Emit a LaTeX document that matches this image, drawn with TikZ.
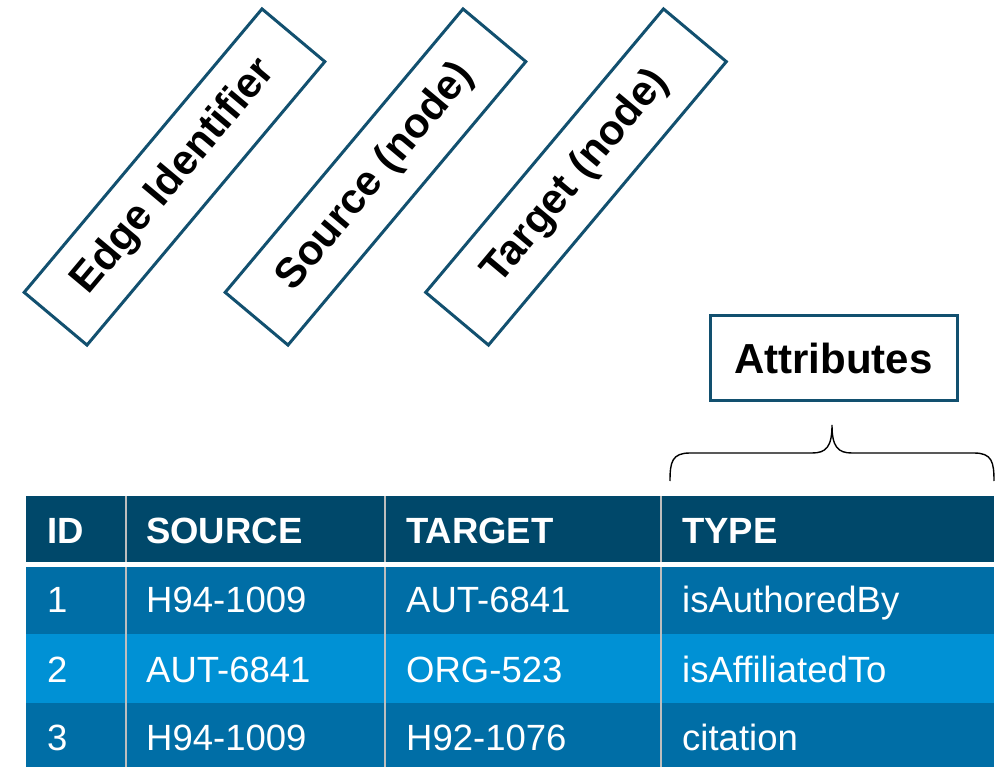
\documentclass[tikz,border=0pt]{standalone}
\usepackage{fontspec}
\setmainfont{Liberation Sans}
\definecolor{frame}{HTML}{12506F}
\definecolor{headfill}{HTML}{00486A}
\definecolor{rowdark}{HTML}{006EA6}
\definecolor{rowlight}{HTML}{0091D5}
\definecolor{rule}{HTML}{BEBEBE}
\tikzset{
  tiltbox/.style={draw=frame, line width=3pt, rotate=50, minimum width=370pt,
    minimum height=82pt, inner sep=0pt, font=\fontsize{42}{50}\selectfont\bfseries},
  labelbox/.style={draw=frame, line width=3pt, minimum width=247pt,
    minimum height=84pt, inner sep=0pt, font=\fontsize{42}{50}\selectfont\bfseries},
  headcell/.style={anchor=base west, inner sep=0pt, text=white,
    font=\fontsize{36.5}{44}\selectfont\bfseries},
  bodycell/.style={anchor=base west, inner sep=0pt, text=white,
    font=\fontsize{36.5}{44}\selectfont},
}
\begin{document}
\begin{tikzpicture}[x=1pt,y=-1pt]
\useasboundingbox (0,0) rectangle (1007,767);

% tilted column captions
\node[tiltbox] (edgeid) at (174.5,177) {Edge Identifier};
\node[tiltbox] (srcbox) at (375.5,177) {Source (node)};
\node[tiltbox] (tgtbox) at (576,177) {Target (node)};

% attribute caption and its brace
\node[labelbox] (attr) at (833.5,358) {Attributes};
\coordinate (brL) at (670,481);
\coordinate (brTip) at (832,425);
\coordinate (brR) at (994,481);
\draw[line width=1.4pt] (brL) .. controls (670,462) and (672,453) .. (690,453)
  -- (812,453) .. controls (826,453) and (832,447) .. (brTip)
  .. controls (832,447) and (838,453) .. (852,453)
  -- (974,453) .. controls (992,453) and (994,462) .. (brR);

% table bands
\fill[headfill] (26,496) rectangle (994,562);
\fill[white] (26,562) rectangle (994,567);
\fill[rowdark] (26,567) rectangle (994,634);
\fill[rowlight] (26,634) rectangle (994,703);
\fill[rowdark] (26,703) rectangle (994,767);

% column rules
\foreach \cx in {126,385,661}{
  \draw[rule, line width=2pt] (\cx,496) -- (\cx,562);
  \draw[rule, line width=2pt] (\cx,567) -- (\cx,767);
}

% header row
\node[headcell] (hid) at (47,543) {ID};
\node[headcell] (hsrc) at (146,543) {SOURCE};
\node[headcell] (htgt) at (406,543) {TARGET};
\node[headcell] (htyp) at (682,543) {TYPE};

% data rows
\node[bodycell] (id1) at (47,612) {1};
\node[bodycell] (s1) at (146,612) {H94-1009};
\node[bodycell] (t1) at (406,612) {AUT-6841};
\node[bodycell] (y1) at (682,612) {isAuthoredBy};

\node[bodycell] (id2) at (47,682) {2};
\node[bodycell] (s2) at (146,682) {AUT-6841};
\node[bodycell] (t2) at (406,682) {ORG-523};
\node[bodycell] (y2) at (682,682) {isAffiliatedTo};

\node[bodycell] (id3) at (47,750) {3};
\node[bodycell] (s3) at (146,750) {H94-1009};
\node[bodycell] (t3) at (406,750) {H92-1076};
\node[bodycell] (y3) at (682,750) {citation};
\end{tikzpicture}
\end{document}
